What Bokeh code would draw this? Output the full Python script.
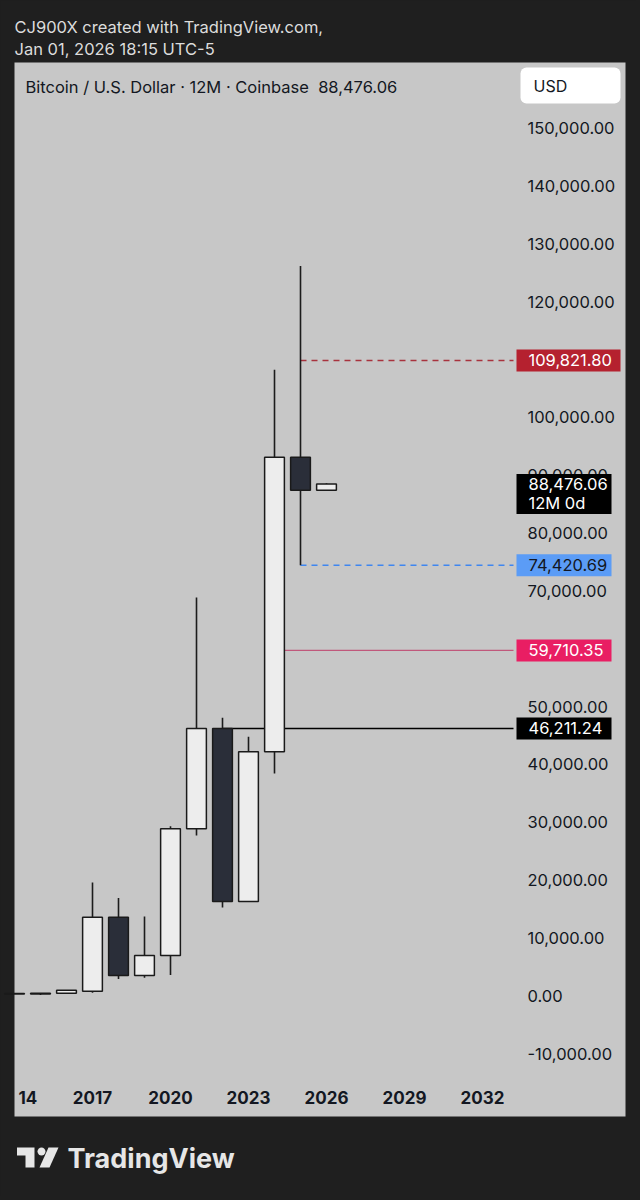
from bokeh.plotting import figure
from bokeh.models import (Label, BoxAnnotation, FixedTicker, NumeralTickFormatter,
                          Range1d, ColumnDataSource, GlobalInlineStyleSheet)
from bokeh.embed import file_html
from bokeh.resources import INLINE
import math

# ---------------- data ----------------
years  = [2014, 2015, 2016, 2017, 2018, 2019, 2020, 2021, 2022, 2023, 2024, 2025, 2026]
opens  = [380, 320, 430, 800, 13580, 3500, 6960, 28870, 46211.24, 16320, 42200, 93100, 87400]
highs  = [420, 500, 980, 19600, 16900, 13700, 29300, 68870, 48050, 44800, 108200, 126160, 88600]
lows   = [300, 150, 350, 520, 2900, 3100, 3600, 27700, 15280, 16300, 38430, 74420.69, 87300]
closes = [320, 430, 960, 13580, 3500, 6960, 28870, 46211.24, 16320, 42200, 93100, 87400, 88476.06]

level_values = [109821.80, 74420.69, 59710.35, 46211.24]
level_start_years = [2025, 2025, 2024, 2022]
level_line_colors = ["#a8323d", "#3f86f0", "#c0587b", "#000000"]
level_dashes = ["6 5", "6 5", "solid", "solid"]
level_label_bg = ["#b5212f", "#5b9cf6", "#e91e63", "#000000"]
level_label_fg = ["#ffffff", "#131722", "#ffffff", "#ffffff"]

last_price = 88476.06
last_price_lines = ["88,476.06", "12M 0d"]

x_ticks = [2014, 2017, 2020, 2023, 2026, 2029, 2032]
# the first year label is cut by the panel edge: only "14" is visible
x_label_overrides = {2014: "\u2007\u2008\u200a14"}
y_ticks = [-10000, 0, 10000, 20000, 30000, 40000, 50000, 60000, 70000, 80000,
           90000, 100000, 110000, 120000, 130000, 140000, 150000]

header_lines = ["CJ900X created with TradingView.com,", "Jan 01, 2026 18:15 UTC-5"]
title_text = "Bitcoin / U.S. Dollar \u00b7 12M \u00b7 Coinbase\u00a0 88,476.06"

# ---------------- layout / style ----------------
DARK = "#1f1f1f"
PANEL = "#c7c7c7"
FONT = "Inter"
W, H = 636, 1196
# time scale: year 2017 at px 92, 26 px per year ; price scale: 0 at px 995.3, 5.785 px per 1000
PX_PER_YEAR = 26.0
PX_PER_USD = 0.005785
X0 = 2017 - 92 / PX_PER_YEAR
X1 = X0 + W / PX_PER_YEAR
Y1 = 995.3 / PX_PER_USD
Y0 = Y1 - H / PX_PER_USD


def dx(px):
    return X0 + px / PX_PER_YEAR


def dy(py):
    return Y1 - py / PX_PER_USD


def hpx(n):  # vertical pixel distance -> price units
    return n / PX_PER_USD


LINE_END = dx(513)

p = figure(width=W, height=H, output_backend="svg", toolbar_location=None,
           x_range=Range1d(X0, X1), y_range=Range1d(Y0, Y1),
           y_axis_location="right",
           min_border_left=0, min_border_right=0, min_border_top=0, min_border_bottom=0,
           background_fill_color=DARK, border_fill_color=DARK,
           outline_line_color=None)
p.stylesheets = [GlobalInlineStyleSheet(css="html, body { background-color: #1f1f1f; }")]
p.grid.visible = False

# grey chart panel
p.add_layout(BoxAnnotation(left=dx(14), right=dx(625), top=dy(62), bottom=dy(1116),
                           fill_color=PANEL, fill_alpha=1, line_color=None,
                           level="underlay"))

# y axis (price scale, drawn inside the panel)
ya = p.yaxis[0]
ya.ticker = FixedTicker(ticks=y_ticks)
ya.formatter = NumeralTickFormatter(format="0,0.00")
ya.axis_line_color = None
ya.major_tick_line_color = None
ya.minor_tick_line_color = None
ya.major_tick_out = 0
ya.major_tick_in = 0
ya.major_label_standoff = -109
ya.major_label_text_font = FONT
ya.major_label_text_font_size = "16.5px"
ya.major_label_text_color = "#131722"

# x axis (time scale, inside the panel)
xa = p.xaxis[0]
xa.ticker = FixedTicker(ticks=x_ticks)
xa.major_label_overrides = x_label_overrides
xa.axis_line_color = None
xa.major_tick_line_color = None
xa.minor_tick_line_color = None
xa.major_tick_out = 0
xa.major_tick_in = 0
xa.major_label_standoff = -109
xa.major_label_text_font = FONT
xa.major_label_text_font_size = "17px"
xa.major_label_text_font_style = "bold"
xa.major_label_text_color = "#131722"

# horizontal levels (behind candles)
for v, sy, c, d in zip(level_values, level_start_years, level_line_colors, level_dashes):
    p.segment(x0=[sy], y0=[v], x1=[LINE_END], y1=[v], line_color=c,
              line_width=1.4, line_dash=d)

# candles
tops = [max(o, c) for o, c in zip(opens, closes)]
bots = [min(o, c) for o, c in zip(opens, closes)]
fills = ["#ededed" if c >= o else "#2a2e39" for o, c in zip(opens, closes)]
src = ColumnDataSource(dict(x=years, high=highs, low=lows, top=tops, bottom=bots, fill=fills))
p.segment(x0="x", y0="high", x1="x", y1="low", source=src, line_color="#1c1c1c", line_width=1.6)
p.vbar(x="x", width=0.76, top="top", bottom="bottom", source=src,
       fill_color="fill", line_color="#1a1a1a", line_width=1.5)

# price labels on the scale (boxes above the axis labels)
box_right = [620, 611, 611, 611]
for v, bg, fg, br in zip(level_values, level_label_bg, level_label_fg, box_right):
    p.rect(x=[dx((516 + br) / 2)], y=[v], width=br - 516, height=22,
           width_units="screen", height_units="screen", fill_color=bg,
           line_color=None, level="annotation")
    p.add_layout(Label(x=dx(528), y=v, text=f"{v:,.2f}", text_align="left",
                       text_baseline="middle", text_font=FONT, text_font_size="16.5px",
                       text_color=fg, level="overlay"))

p.rect(x=[dx(563.5)], y=[last_price - hpx(10)], width=95, height=40,
       width_units="screen", height_units="screen", fill_color="#000000",
       line_color=None, level="annotation")
for i, t in enumerate(last_price_lines):
    p.add_layout(Label(x=dx(528), y=last_price - hpx(19 * i), text=t, text_align="left",
                       text_baseline="middle", text_font=FONT, text_font_size="16.5px",
                       text_color="#ffffff", level="overlay"))

# chart title and currency box
p.add_layout(Label(x=dx(25), y=dy(86), text=title_text, text_align="left",
                   text_baseline="middle", text_font=FONT, text_font_size="16.5px",
                   text_color="#131722"))
p.add_layout(BoxAnnotation(left=dx(520), right=dx(620), top=dy(67), bottom=dy(103),
                           fill_color="#ffffff", fill_alpha=1, line_color=None,
                           border_radius=6))
p.add_layout(Label(x=dx(533), y=dy(85), text="USD", text_align="left",
                   text_baseline="middle", text_font=FONT, text_font_size="16px",
                   text_color="#131722", level="overlay"))

# header
for i, t in enumerate(header_lines):
    p.add_layout(Label(x=dx(14), y=dy(26 + 22 * i), text=t, text_align="left",
                       text_baseline="middle", text_font=FONT, text_font_size="16.5px",
                       text_color="#dcdcdc"))

# footer logo
LOGO = "#e6e6e6"
t_shape = [(16.5, 1147), (34, 1147), (34, 1167), (25, 1167), (25, 1155), (16.5, 1155)]
slash = [(48, 1147), (58, 1147), (49, 1167), (39, 1167)]
dot = [(41 + 4 * math.cos(a / 16 * 2 * math.pi), 1151 + 4 * math.sin(a / 16 * 2 * math.pi)) for a in range(16)]
shapes = [t_shape, slash, dot]
p.patches(xs=[[dx(a) for a, b in s] for s in shapes], ys=[[dy(b) for a, b in s] for s in shapes],
          fill_color=LOGO, line_color=None)
p.add_layout(Label(x=dx(67), y=dy(1157.5), text="TradingView", text_align="left",
                   text_baseline="middle", text_font=FONT, text_font_size="27px",
                   text_font_style="bold", text_color=LOGO))

open("out.html", "w").write(file_html(p, INLINE))
